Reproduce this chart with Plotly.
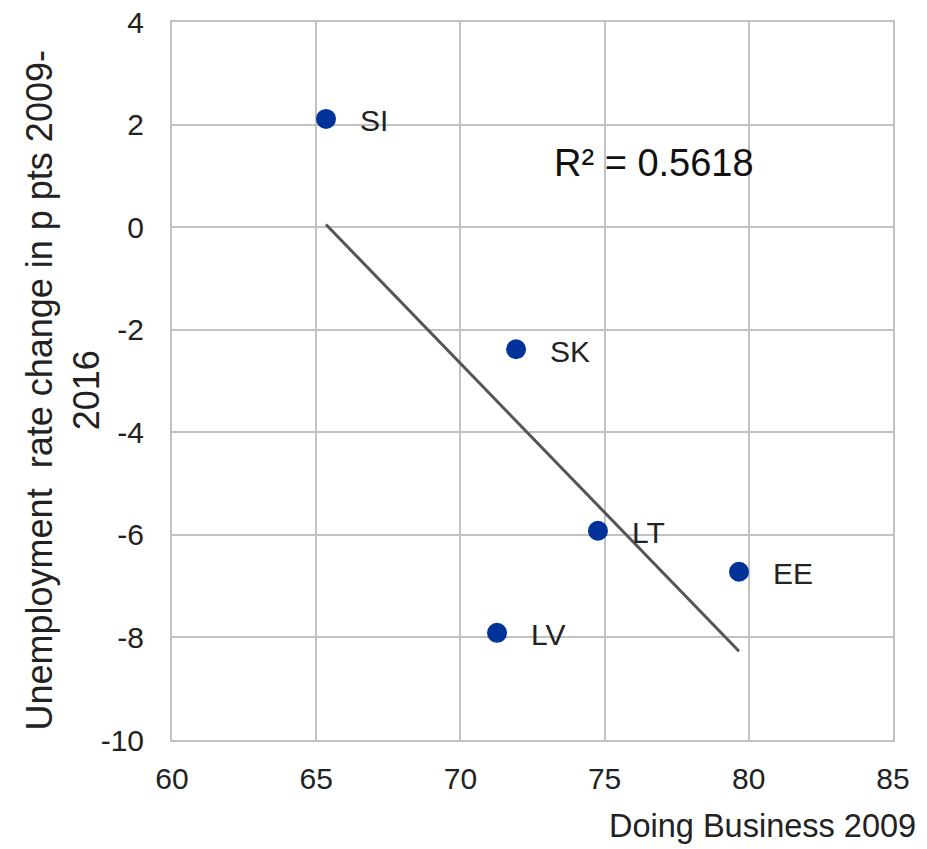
import numpy as np
import plotly.graph_objects as go

countries = ["SI", "SK", "LT", "EE", "LV"]
doing_business_2009 = [65.34, 71.93, 74.77, 79.66, 71.27]
unemp_change = [2.11, -2.38, -5.92, -6.72, -7.91]
r2_label = "R² = 0.5618"
x_ticks = [60, 65, 70, 75, 80, 85]
x_tick_labels = ["60", "65", "70", "75", "80", "85"]
y_ticks = [4, 2, 0, -2, -4, -6, -8, -10]
y_tick_labels = ["4", "2", "0", "-2", "-4", "-6", "-8", "-10"]

FONT = "Liberation Sans, Arial, sans-serif"
TXT = "#222222"
GRID = "#c2c2c2"

slope, intercept = np.polyfit(doing_business_2009, unemp_change, 1)
x_fit = [min(doing_business_2009), max(doing_business_2009)]
y_fit = [slope * v + intercept for v in x_fit]

fig = go.Figure()
fig.add_trace(go.Scatter(x=x_fit, y=y_fit, mode="lines",
                         line=dict(color="#555555", width=3), hoverinfo="skip",
                         showlegend=False))
fig.add_trace(go.Scatter(x=doing_business_2009, y=unemp_change, mode="markers",
                         marker=dict(color="#00339a", size=20),
                         showlegend=False))

for c, x, y in zip(countries, doing_business_2009, unemp_change):
    fig.add_annotation(x=x, y=y, text=c, showarrow=False, xanchor="left",
                       xshift=32, yshift=-2,
                       font=dict(family=FONT, size=30, color=TXT))

fig.add_annotation(x=73.18, y=1.25, text=r2_label, showarrow=False,
                   xanchor="left", yanchor="middle",
                   font=dict(family=FONT, size=38, color="#111111"))

fig.add_annotation(xref="paper", yref="paper", x=-0.151, y=0.487,
                   text="Unemployment  rate change in p pts 2009-<br>2016",
                   textangle=-90, showarrow=False, xanchor="center", yanchor="middle",
                   font=dict(family=FONT, size=36, color=TXT))

fig.add_annotation(xref="paper", yref="paper", x=1.0347, y=-0.1198,
                   text="Doing Business 2009", showarrow=False,
                   xanchor="right", yanchor="middle",
                   font=dict(family=FONT, size=32.5, color=TXT))

fig.update_layout(
    width=927, height=849,
    margin=dict(l=172, r=34, t=22, b=109, autoexpand=False),
    paper_bgcolor="white", plot_bgcolor="white",
    font=dict(family=FONT, size=30, color=TXT),
    xaxis=dict(range=[60, 85], tickvals=x_ticks, ticktext=x_tick_labels,
               showgrid=True, gridcolor=GRID, gridwidth=2, zeroline=False,
               showline=True, linecolor=GRID, linewidth=2, mirror=True,
               ticks="", ticklabelstandoff=11, ticklabeloverflow="allow"),
    yaxis=dict(range=[-10, 4], tickvals=y_ticks, ticktext=y_tick_labels,
               showgrid=True, gridcolor=GRID, gridwidth=2, zeroline=False,
               showline=True, linecolor=GRID, linewidth=2, mirror=True,
               ticks="", ticklabelstandoff=20, ticklabeloverflow="allow"),
)

fig.write_html("out.html", config={"displayModeBar": False},
               post_script="document.body.style.margin='0';document.body.style.overflow='hidden';")
